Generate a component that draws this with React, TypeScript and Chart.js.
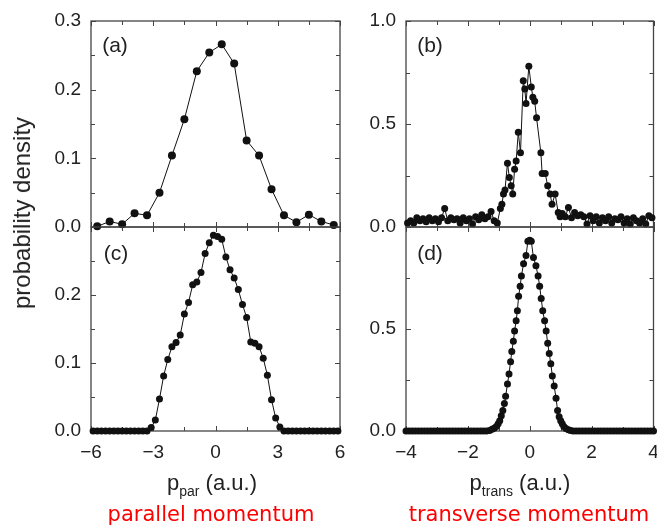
import React, { useEffect, useRef } from 'react';
import { Chart, registerables } from 'chart.js';

Chart.register(...registerables);

// ---------- data ----------
// (a) parallel momentum, coarse bins
const aX = [-5.7, -5.1, -4.5, -3.9, -3.3, -2.7, -2.1, -1.5, -0.9, -0.3, 0.3, 0.9, 1.5, 2.1, 2.7, 3.3, 3.9, 4.5, 5.1, 5.7];
const aY = [0.001, 0.008, 0.004, 0.02, 0.017, 0.05, 0.104, 0.157, 0.227, 0.254, 0.266, 0.238, 0.126, 0.104, 0.055, 0.017, 0.007, 0.018, 0.008, 0.003];

// (b) transverse momentum, noisy
const bX = [
  -3.95, -3.85, -3.75, -3.65, -3.55, -3.45, -3.35, -3.25, -3.15, -3.05,
  -2.95, -2.85, -2.75, -2.65, -2.55, -2.45, -2.35, -2.25, -2.15, -2.05,
  -1.95, -1.85, -1.75, -1.65, -1.55, -1.45, -1.35, -1.25, -1.15,
  -1.05, -0.95, -0.9, -0.85, -0.8, -0.72, -0.66, -0.6, -0.55, -0.49,
  -0.44, -0.37, -0.3, -0.21, -0.16, -0.12, -0.03, 0.05, 0.1, 0.16,
  0.22, 0.36, 0.4, 0.5, 0.58, 0.66, 0.72, 0.82, 0.92, 0.98,
  1.05, 1.15, 1.25, 1.35, 1.45, 1.55, 1.65, 1.75, 1.85, 1.95,
  2.05, 2.15, 2.25, 2.35, 2.45, 2.55, 2.65, 2.75, 2.85, 2.95,
  3.05, 3.15, 3.25, 3.35, 3.45, 3.55, 3.65, 3.75, 3.85, 3.95,
];
const bY = [
  0.02, 0.03, 0.02, 0.045, 0.03, 0.04, 0.025, 0.045, 0.03, 0.04,
  0.025, 0.045, 0.09, 0.03, 0.045, 0.035, 0.04, 0.02, 0.045, 0.03,
  0.04, 0.015, 0.05, 0.035, 0.06, 0.04, 0.05, 0.075, 0.03,
  0.02, 0.09, 0.11, 0.16, 0.18, 0.31, 0.24, 0.2, 0.16, 0.28,
  0.32, 0.46, 0.36, 0.71, 0.67, 0.6, 0.78, 0.68, 0.63, 0.61,
  0.53, 0.36, 0.26, 0.26, 0.2, 0.16, 0.11, 0.16, 0.07, 0.05,
  0.065, 0.05, 0.095, 0.045, 0.07, 0.055, 0.06, 0.05, 0.015, 0.055,
  0.03, 0.05, 0.02, 0.045, 0.03, 0.05, 0.02, 0.04, 0.035, 0.05,
  0.02, 0.04, 0.015, 0.045, 0.03, 0.02, 0.04, 0.015, 0.055, 0.045,
];

// (c) parallel momentum, fine bins
const cX = [
  -5.9, -5.7, -5.5, -5.3, -5.1, -4.9, -4.7, -4.5, -4.3, -4.1, -3.9, -3.7, -3.5, -3.3,
  -3.1, -2.9, -2.7, -2.5, -2.3, -2.1, -1.9, -1.7, -1.5, -1.3, -1.1, -0.9, -0.7, -0.5, -0.3, -0.1,
  0.1, 0.3, 0.5, 0.7, 0.9, 1.1, 1.3, 1.5, 1.7, 1.9, 2.1, 2.3, 2.5, 2.7, 2.9, 3.1,
  3.3, 3.5, 3.7, 3.9, 4.1, 4.3, 4.5, 4.7, 4.9, 5.1, 5.3, 5.5, 5.7, 5.9,
];
const cY = [
  0, 0, 0, 0, 0, 0, 0, 0, 0, 0, 0, 0, 0, 0,
  0.005, 0.016, 0.047, 0.081, 0.105, 0.124, 0.13, 0.141, 0.172, 0.189, 0.215, 0.219, 0.233, 0.261, 0.277, 0.288,
  0.286, 0.282, 0.256, 0.237, 0.225, 0.208, 0.186, 0.167, 0.131, 0.129, 0.124, 0.107, 0.082, 0.046, 0.019, 0.006,
  0, 0, 0, 0, 0, 0, 0, 0, 0, 0, 0, 0, 0, 0,
];

// (d) transverse momentum, smooth
const dX = [
  -4.0, -3.9, -3.8, -3.7, -3.6, -3.5, -3.4, -3.3, -3.2, -3.1, -3.0, -2.9, -2.8, -2.7,
  -2.6, -2.5, -2.4, -2.3, -2.2, -2.1, -2.0, -1.9, -1.8, -1.7, -1.6, -1.5, -1.4,
  -1.3, -1.22, -1.15, -1.08, -1.02, -0.97, -0.92, -0.87, -0.82, -0.78,
  -0.72, -0.67, -0.62, -0.58, -0.53, -0.49, -0.44, -0.4, -0.36, -0.31,
  -0.27, -0.2, -0.12, -0.06, 0, 0.05, 0.12, 0.2, 0.27, 0.32,
  0.37, 0.42, 0.48, 0.53, 0.58, 0.63, 0.68, 0.73, 0.79, 0.85,
  0.9, 0.95, 1.0, 1.05, 1.1, 1.17, 1.25, 1.32,
  1.4, 1.5, 1.6, 1.7, 1.8, 1.9, 2.0, 2.1, 2.2, 2.3, 2.4, 2.5, 2.6, 2.7,
  2.8, 2.9, 3.0, 3.1, 3.2, 3.3, 3.4, 3.5, 3.6, 3.7, 3.8, 3.9, 4.0,
];
const dY = [
  0, 0, 0, 0, 0, 0, 0, 0, 0, 0, 0, 0, 0, 0,
  0, 0, 0, 0, 0, 0, 0, 0, 0, 0, 0, 0, 0,
  0.003, 0.008, 0.013, 0.022, 0.035, 0.05, 0.075, 0.1, 0.135, 0.17,
  0.23, 0.28, 0.34, 0.39, 0.44, 0.49, 0.54, 0.59, 0.66, 0.71,
  0.76, 0.82, 0.86, 0.93, 0.935, 0.93, 0.85, 0.81, 0.76, 0.71,
  0.65, 0.59, 0.54, 0.49, 0.43, 0.38, 0.33, 0.27, 0.22, 0.16,
  0.1, 0.07, 0.05, 0.035, 0.022, 0.012, 0.006, 0.003,
  0, 0, 0, 0, 0, 0, 0, 0, 0, 0, 0, 0, 0, 0,
  0, 0, 0, 0, 0, 0, 0, 0, 0, 0, 0, 0, 0,
];

// axis ranges / ticks
const parRange = [-6, 6];
const transRange = [-4, 4];
const parXStep = 1.5;
const parXLabelStep = 3;
const transXStep = 1;
const transXLabelStep = 2;

// ---------- layout ----------
const W = 657;
const H = 526;
const YW = 60; // fixed y-axis width
const XH = 40; // fixed x-axis height (bottom panels)
const INK = '#111';
const AXIS = '#444';
const TXT = '#222';
const FONT = 'Liberation Sans, Arial, Helvetica, sans-serif';

const near = (a: number, b: number) => Math.abs(a - b) < 1e-6;

function labeler(labelStep: number, digits: number, hide: number[]) {
  return (v: any) => {
    const val = Number(v);
    const r = val / labelStep;
    if (!near(r, Math.round(r))) return '';
    if (hide.some((h) => near(h, val))) return '';
    const s = digits > 0 ? val.toFixed(digits) : String(Math.round(val));
    return s.replace('-', '\u2212');
  };
}

const frameTicks = {
  id: 'frameTicks',
  beforeDatasetsDraw(chart: any) {
    const { ctx, chartArea: a, scales } = chart;
    ctx.save();
    ctx.strokeStyle = AXIS;
    ctx.lineWidth = 1.3;
    ctx.strokeRect(a.left, a.top, a.right - a.left, a.bottom - a.top);
    ctx.lineWidth = 1;
    ctx.beginPath();
    const xs = scales.x;
    xs.ticks.forEach((t: any, i: number) => {
      const px = Math.round(xs.getPixelForTick(i)) + 0.5;
      const L = t.label ? 5 : 4;
      ctx.moveTo(px, a.bottom);
      ctx.lineTo(px, a.bottom - L);
      ctx.moveTo(px, a.top);
      ctx.lineTo(px, a.top + L);
    });
    const ys = scales.y;
    ys.ticks.forEach((t: any, i: number) => {
      const py = Math.round(ys.getPixelForTick(i)) + 0.5;
      const L = t.label ? 5 : 4;
      ctx.moveTo(a.left, py);
      ctx.lineTo(a.left + L, py);
      ctx.moveTo(a.right, py);
      ctx.lineTo(a.right - L, py);
    });
    ctx.stroke();
    ctx.restore();
  },
};

type PanelSpec = {
  xs: number[];
  ys: number[];
  left: number;
  right: number;
  top: number;
  bottom: number;
  xRange: number[];
  xStep: number;
  xLabelStep: number;
  yMax: number;
  yStep: number;
  yLabelStep: number;
  yHide: number[];
  showX: boolean;
  r: number;
};

function makeConfig(p: PanelSpec): any {
  return {
    type: 'scatter',
    data: {
      datasets: [
        {
          data: p.xs.map((x, i) => ({ x, y: p.ys[i] })),
          showLine: true,
          borderColor: INK,
          borderWidth: 1,
          pointRadius: p.r,
          pointBackgroundColor: INK,
          pointBorderWidth: 0,
          pointHoverRadius: p.r,
          clip: false,
        },
      ],
    },
    options: {
      responsive: false,
      animation: false,
      devicePixelRatio: 1,
      events: [],
      layout: {
        padding: {
          left: p.left - YW,
          right: W - p.right,
          top: p.top,
          bottom: H - p.bottom - (p.showX ? XH : 0),
        },
      },
      plugins: { legend: { display: false }, tooltip: { enabled: false }, title: { display: false } },
      scales: {
        x: {
          type: 'linear',
          min: p.xRange[0],
          max: p.xRange[1],
          grid: { display: false, drawTicks: false },
          border: { display: false },
          ticks: {
            display: p.showX,
            stepSize: p.xStep,
            autoSkip: false,
            maxRotation: 0,
            padding: 10,
            color: TXT,
            font: { family: FONT, size: 19 },
            callback: labeler(p.xLabelStep, 0, []),
          },
          afterFit: (s: any) => {
            s.height = p.showX ? XH : 0;
            s.paddingLeft = 0;
            s.paddingRight = 0;
          },
        },
        y: {
          type: 'linear',
          min: 0,
          max: p.yMax,
          grid: { display: false, drawTicks: false },
          border: { display: false },
          ticks: {
            stepSize: p.yStep,
            autoSkip: false,
            padding: 10,
            color: TXT,
            font: { family: FONT, size: 19 },
            callback: labeler(p.yLabelStep, 1, p.yHide),
          },
          afterFit: (s: any) => {
            s.width = YW;
            s.paddingTop = 0;
            s.paddingBottom = 0;
          },
        },
      },
    },
    plugins: [frameTicks],
  };
}

const panels: PanelSpec[] = [
  { xs: aX, ys: aY, left: 91, right: 340, top: 21, bottom: 227, xRange: parRange, xStep: parXStep, xLabelStep: parXLabelStep, yMax: 0.3, yStep: 0.05, yLabelStep: 0.1, yHide: [], showX: false, r: 4 },
  { xs: bX, ys: bY, left: 406, right: 655, top: 21, bottom: 227, xRange: transRange, xStep: transXStep, xLabelStep: transXLabelStep, yMax: 1, yStep: 0.25, yLabelStep: 0.5, yHide: [], showX: false, r: 3.5 },
  { xs: cX, ys: cY, left: 91, right: 340, top: 227, bottom: 431, xRange: parRange, xStep: parXStep, xLabelStep: parXLabelStep, yMax: 0.3, yStep: 0.05, yLabelStep: 0.1, yHide: [0.3], showX: true, r: 3.5 },
  { xs: dX, ys: dY, left: 406, right: 655, top: 227, bottom: 431, xRange: transRange, xStep: transXStep, xLabelStep: transXLabelStep, yMax: 1, yStep: 0.25, yLabelStep: 0.5, yHide: [1], showX: true, r: 3.5 },
];

function Panel({ spec }: { spec: PanelSpec }) {
  const ref = useRef<HTMLCanvasElement>(null);
  useEffect(() => {
    const chart = new Chart(ref.current as HTMLCanvasElement, makeConfig(spec));
    return () => chart.destroy();
  }, [spec]);
  return (
    <canvas
      ref={ref}
      width={W}
      height={H}
      style={{ position: 'absolute', left: 0, top: 0, width: W, height: H }}
    />
  );
}

const abs = (x: number, y: number, extra: any = {}): any => ({
  position: 'absolute',
  left: x,
  top: y,
  whiteSpace: 'nowrap',
  ...extra,
});

export default function App() {
  const tagStyle = { fontFamily: FONT, fontSize: 21, color: TXT, lineHeight: '24px', transform: 'translate(-50%, -50%)' };
  const xTitle = { fontFamily: FONT, fontSize: 22, color: TXT, lineHeight: '26px', transform: 'translate(-50%, -50%)' };
  const sub = { fontSize: 14, position: 'relative' as const, top: 6 };
  const red = { fontFamily: 'DejaVu Sans, Verdana, sans-serif', fontSize: 21, color: '#ff0000', lineHeight: '24px', transform: 'translate(-50%, -50%)' };
  return (
    <div style={{ position: 'absolute', left: 0, top: 0, width: W, height: H, background: '#fff', overflow: 'hidden' }}>
      {panels.map((p, i) => (
        <Panel key={i} spec={p} />
      ))}
      <div style={abs(115, 45, tagStyle)}>(a)</div>
      <div style={abs(430, 45, tagStyle)}>(b)</div>
      <div style={abs(116, 253, tagStyle)}>(c)</div>
      <div style={abs(430, 253, tagStyle)}>(d)</div>
      <div
        style={abs(22, 213, {
          fontFamily: FONT,
          fontSize: 24,
          color: TXT,
          lineHeight: '28px',
          transform: 'translate(-50%, -50%) rotate(-90deg)',
        })}
      >
        probability density
      </div>
      <div style={abs(212, 484, xTitle)}>
        p<span style={sub}>par</span> (a.u.)
      </div>
      <div style={abs(520, 484, xTitle)}>
        p<span style={sub}>trans</span> (a.u.)
      </div>
      <div style={abs(211, 514, red)}>parallel momentum</div>
      <div style={abs(529, 514, red)}>transverse momentum</div>
    </div>
  );
}
